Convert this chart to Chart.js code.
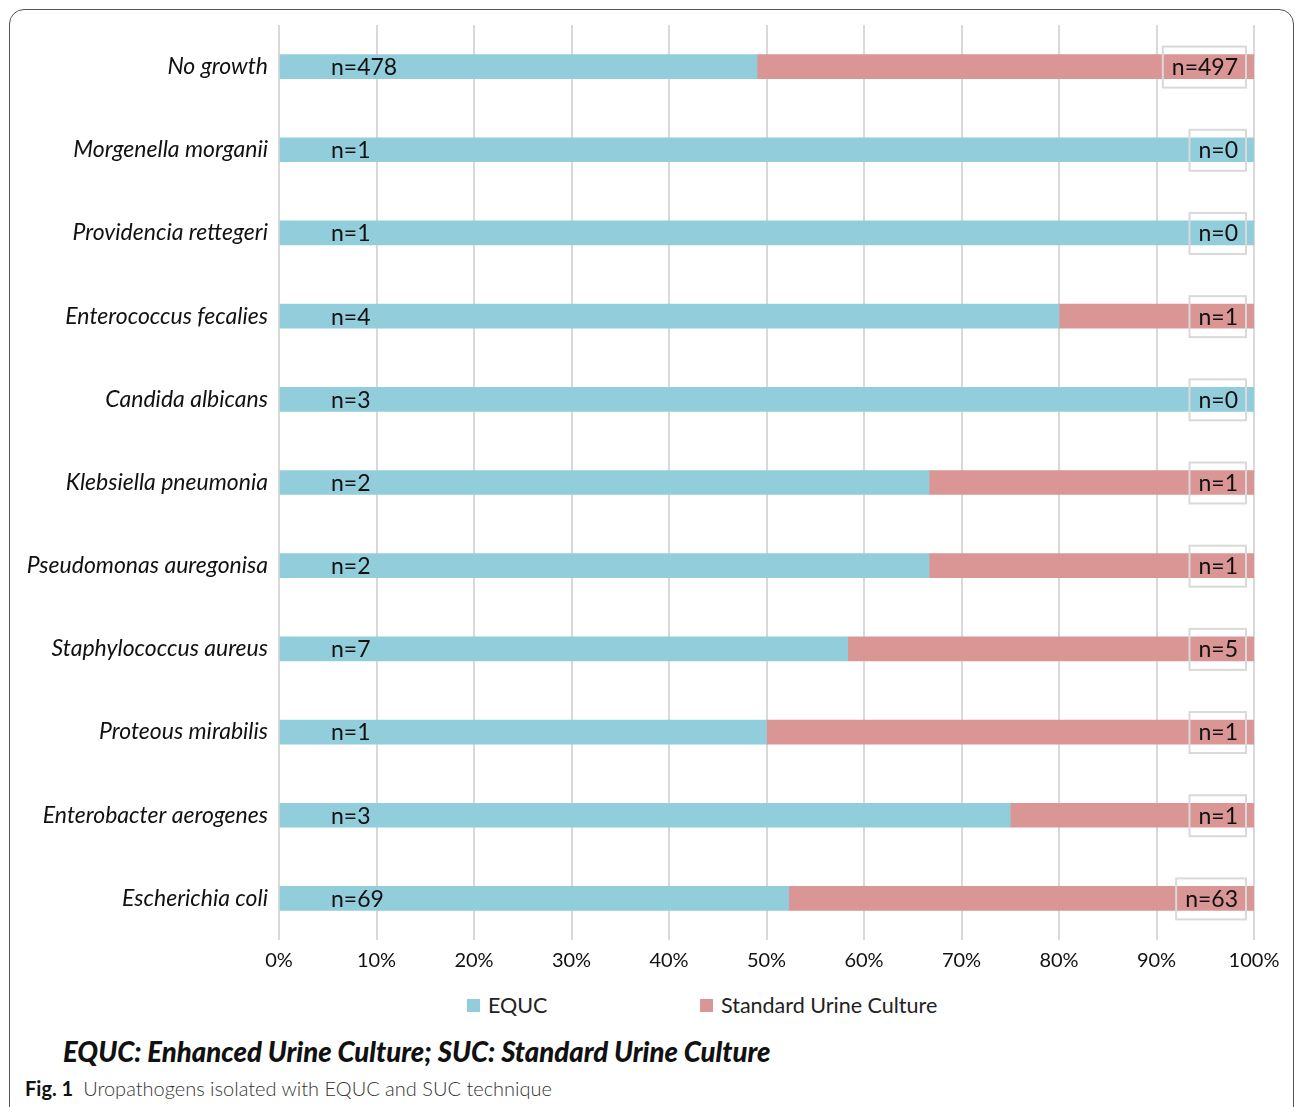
<!DOCTYPE html>
<html>
<head>
<meta charset="utf-8">
<script src="https://cdn.jsdelivr.net/npm/chart.js@4.4.1/dist/chart.umd.min.js"></script>
<style>
  html, body { margin: 0; padding: 0; background: #fff; overflow: hidden; }
  body { width: 1295px; height: 1107px; position: relative; font-family: Lato, "Open Sans", sans-serif; }
  #frame {
    position: absolute; left: 9px; top: 9px; width: 1285px; height: 1130px;
    border: 1.5px solid #555; border-radius: 15px; box-sizing: border-box;
  }
  #wrap { position: absolute; left: 0; top: 0; width: 1295px; height: 985px; }
  #legend { position: absolute; top: 991px; left: 0; width: 1295px; height: 28px; font-size: 21.5px; color: #222; }
  .item { position: absolute; top: 0; display: flex; align-items: center; height: 28px; }
  .box { width: 13px; height: 13px; margin-right: 8px; }
  #note {
    position: absolute; left: 63px; top: 1035px; font-size: 27.5px; font-weight: 900;
    font-style: italic; color: #111; white-space: nowrap;
  }
  #caption { position: absolute; left: 25px; top: 1076px; font-size: 20px; color: #333; white-space: nowrap; }
  #caption b { color: #111; font-weight: 700; margin-right: 10px; }
  #caption span { font-weight: 300; }
</style>
</head>
<body>
<div id="frame"></div>
<div id="wrap"><canvas id="chart"></canvas></div>
<div id="legend"></div>
<div id="note">EQUC: Enhanced Urine Culture; SUC: Standard Urine Culture</div>
<div id="caption"><b>Fig. 1</b><span>Uropathogens isolated with EQUC and SUC technique</span></div>
<script>
const categories = [
  "No growth", "Morgenella morganii", "Providencia rettegeri", "Enterococcus fecalies",
  "Candida albicans", "Klebsiella pneumonia", "Pseudomonas auregonisa",
  "Staphylococcus aureus", "Proteous mirabilis", "Enterobacter aerogenes", "Escherichia coli"
];
const equcCounts = [478, 1, 1, 4, 3, 2, 2, 7, 1, 3, 69];
const sucCounts = [497, 0, 0, 1, 0, 1, 1, 5, 1, 1, 63];
const tickLabels = ["0%", "10%", "20%", "30%", "40%", "50%", "60%", "70%", "80%", "90%", "100%"];
const seriesNames = ["EQUC", "Standard Urine Culture"];

// 100% stacked: share of each series per category
const equcPct = equcCounts.map((v, i) => v / (v + sucCounts[i]) * 100);
const sucPct = sucCounts.map((v, i) => v / (equcCounts[i] + v) * 100);

const countLabels = {
  id: 'countLabels',
  afterDatasetsDraw(chart) {
    const ctx = chart.ctx;
    const x = chart.scales.x;
    const meta = chart.getDatasetMeta(0);
    ctx.save();
    ctx.font = '23px Lato, "Open Sans", sans-serif';
    ctx.fillStyle = '#111';
    ctx.textBaseline = 'middle';
    meta.data.forEach((bar, i) => {
      const y = bar.y + 1;
      ctx.textAlign = 'left';
      ctx.fillText('n=' + equcCounts[i], x.getPixelForValue(0) + 52, y);
      const txt = 'n=' + sucCounts[i];
      const right = x.getPixelForValue(100) - 16;
      const w = ctx.measureText(txt).width;
      ctx.textAlign = 'right';
      ctx.fillText(txt, right, y);
      ctx.strokeStyle = '#d9d9d9';
      ctx.lineWidth = 2;
      ctx.strokeRect(right - w - 9, bar.y - 20, w + 17, 41);
    });
    ctx.restore();
  }
};

const chart = new Chart(document.getElementById('chart'), {
  type: 'bar',
  data: {
    labels: categories,
    datasets: [
      { label: seriesNames[0], data: equcPct, backgroundColor: '#92CDDC', barThickness: 24 },
      { label: seriesNames[1], data: sucPct, backgroundColor: '#D99694', barThickness: 24 }
    ]
  },
  options: {
    indexAxis: 'y',
    responsive: true,
    maintainAspectRatio: false,
    animation: false,
    layout: { padding: { top: 25, right: 41, bottom: 0, left: 0 } },
    plugins: {
      legend: { display: false },
      tooltip: { enabled: false }
    },
    scales: {
      x: {
        stacked: true,
        min: 0,
        max: 100,
        border: { display: false },
        grid: { color: '#d9d9d9', lineWidth: 2, drawTicks: false },
        afterFit(scale) { scale.height = 45; },
        ticks: {
          stepSize: 10,
          padding: 9,
          color: '#111',
          font: { family: 'Lato, "Open Sans", sans-serif', size: 20 },
          callback: (v, i) => tickLabels[i]
        }
      },
      y: {
        stacked: true,
        border: { display: false },
        grid: { display: false, drawTicks: false },
        afterFit(scale) { scale.width = 279; },
        ticks: {
          padding: 11,
          color: '#111',
          font: { family: 'Lato, "Open Sans", sans-serif', size: 23, style: 'italic' }
        }
      }
    }
  },
  plugins: [countLabels]
});

// legend built from the chart's datasets
const legend = document.getElementById('legend');
const legendX = [467, 700];
chart.data.datasets.forEach((ds, i) => {
  const item = document.createElement('div');
  item.className = 'item';
  item.style.left = legendX[i] + 'px';
  item.innerHTML = '<div class="box" style="background:' + ds.backgroundColor + '"></div>' + ds.label;
  legend.appendChild(item);
});
</script>
</body>
</html>
